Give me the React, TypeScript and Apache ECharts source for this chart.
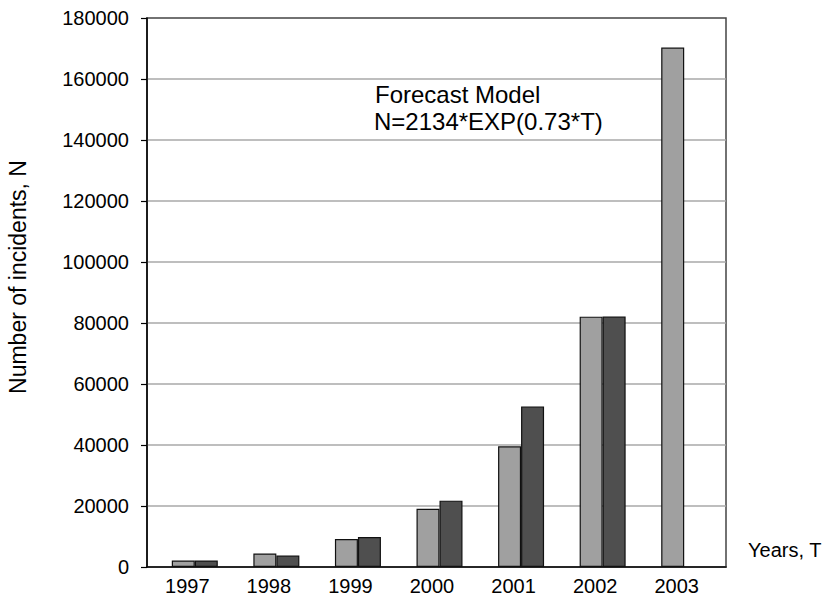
import React, { useEffect, useRef } from "react";
import * as echarts from "echarts";

const years = ["1997", "1998", "1999", "2000", "2001", "2002", "2003"];
const forecastValues = [2134, 4430, 9190, 19060, 39560, 82080, 170300];
const actualValues: (number | null)[] = [2134, 3734, 9859, 21756, 52658, 82094, null];
const yTicks = { min: 0, max: 180000, interval: 20000 };
const annotationLines = ["Forecast Model", "N=2134*EXP(0.73*T)"];
const yAxisTitle = "Number of incidents, N";
const xAxisTitle = "Years, T";

const FONT = "'Liberation Sans', Arial, Helvetica, sans-serif";

export default function App() {
  const ref = useRef<HTMLDivElement>(null);
  useEffect(() => {
    if (!ref.current) return;
    const chart = echarts.init(ref.current, undefined, { renderer: "svg" });
    chart.setOption({
      animation: false,
      backgroundColor: "#ffffff",
      textStyle: { fontFamily: FONT },
      grid: [
        {
          left: 147,
          right: 107,
          top: 18,
          bottom: 30,
          show: true,
          borderColor: "#444444",
          borderWidth: 1.5,
          backgroundColor: "transparent",
        },
        { left: 154, right: 108, top: 18, bottom: 30 },
      ],
      xAxis: [
        {
          type: "category",
          gridIndex: 0,
          data: years,
          axisLine: { show: true, lineStyle: { color: "#000", width: 1.5 } },
          axisTick: { show: false },
          axisLabel: { show: false },
          splitLine: { show: false },
        },
        {
          type: "category",
          gridIndex: 1,
          data: years,
          axisLine: { show: false },
          axisTick: { show: false },
          axisLabel: {
            color: "#000",
            fontSize: 20,
            fontFamily: FONT,
            margin: 9,
            padding: [0, 15, 0, 0],
          },
          splitLine: { show: false },
        },
      ],
      yAxis: [
        {
          type: "value",
          gridIndex: 0,
          min: yTicks.min,
          max: yTicks.max,
          interval: yTicks.interval,
          axisLine: { show: true, lineStyle: { color: "#000", width: 1.5 } },
          axisTick: { show: true, length: 6, lineStyle: { color: "#000", width: 1.2 } },
          axisLabel: {
            color: "#000",
            fontSize: 20,
            fontFamily: FONT,
            margin: 18,
            formatter: (v: number) => String(v),
          },
          splitLine: { show: true, showMaxLine: false, lineStyle: { color: "#a8a8a8", width: 1.5 } },
        },
        {
          type: "value",
          gridIndex: 1,
          min: yTicks.min,
          max: yTicks.max,
          interval: yTicks.interval,
          show: false,
          splitLine: { show: false },
        },
      ],
      series: [
        {
          name: "Forecast",
          type: "bar",
          xAxisIndex: 1,
          yAxisIndex: 1,
          data: forecastValues,
          barWidth: 23,
          barGap: "0%",
          itemStyle: { color: "#a0a0a0", borderColor: "#111", borderWidth: 1.2 },
        },
        {
          name: "Actual",
          type: "bar",
          xAxisIndex: 1,
          yAxisIndex: 1,
          data: actualValues.map((v) => (v === null ? "-" : v)),
          barWidth: 23,
          barGap: "0%",
          itemStyle: { color: "#4f4f4f", borderColor: "#111", borderWidth: 1.2 },
        },
      ],
      graphic: [
        {
          type: "text",
          x: 18,
          y: 277,
          rotation: Math.PI / 2,
          style: {
            text: yAxisTitle,
            font: `23px ${FONT}`,
            fill: "#000",
            align: "center",
            verticalAlign: "middle",
          },
        },
        {
          type: "text",
          x: 748,
          y: 550,
          style: {
            text: xAxisTitle,
            font: `20px ${FONT}`,
            fill: "#000",
            align: "left",
            verticalAlign: "middle",
          },
        },
        {
          type: "text",
          x: 375,
          y: 94,
          style: {
            text: annotationLines[0],
            font: `24px ${FONT}`,
            fill: "#000",
            align: "left",
            verticalAlign: "middle",
          },
        },
        {
          type: "text",
          x: 374,
          y: 121,
          style: {
            text: annotationLines[1],
            font: `24px ${FONT}`,
            fill: "#000",
            align: "left",
            verticalAlign: "middle",
          },
        },
      ],
    });
    return () => chart.dispose();
  }, []);
  return <div ref={ref} style={{ width: 833, height: 597, position: "absolute", left: 0, top: 0 }} />;
}
